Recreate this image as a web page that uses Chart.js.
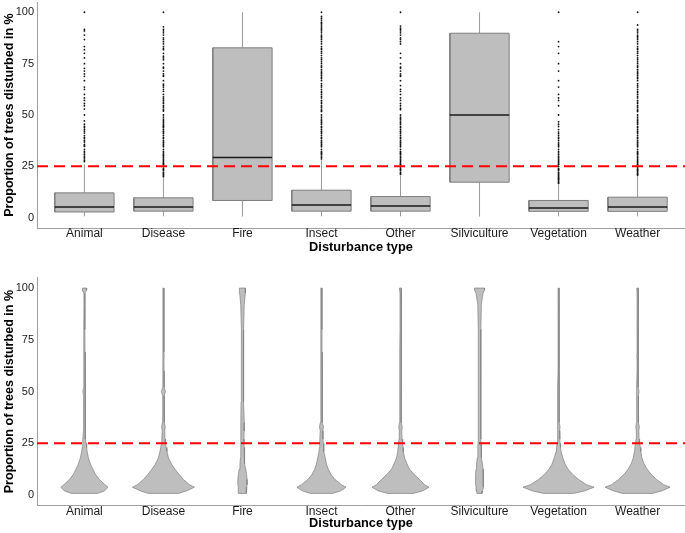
<!DOCTYPE html>
<html>
<head>
<meta charset="utf-8">
<script src="https://cdn.jsdelivr.net/npm/chart.js@4/dist/chart.umd.min.js"></script>
<style>
  body { margin: 0; background: #fff; }
  #wrap { position: relative; width: 685px; height: 533px; }
  canvas { position: absolute; left: 0; }
  #box { top: 0; }
  #violin { top: 256px; }
</style>
</head>
<body>
<div id="wrap">
  <canvas id="box" width="685" height="256"></canvas>
  <canvas id="violin" width="685" height="277"></canvas>
</div>
<script>
// categories and axis ticks
const categories = ["Animal", "Disease", "Fire", "Insect", "Other", "Silviculture", "Vegetation", "Weather"];
const yTicks = [0, 25, 50, 75, 100];
const threshold = 25;

// box plot stats (percent)
const whiskerLow = [0.7, 0.7, 0.6, 0.7, 0.7, 0.6, 0.7, 0.7];
const q1 = [2.8, 3.2, 8.4, 3.2, 3.2, 17.3, 3.1, 3.1];
const median = [5.2, 5.2, 29.3, 6.2, 5.7, 50, 4.7, 5.2];
const q3 = [12.1, 9.7, 82.7, 13.4, 10.3, 89.8, 8.4, 10];
const whiskerHigh = [26, 19.5, 100, 28, 20.4, 100, 16, 20.8];

// outliers
const animalOut = [100, 91.7, 90.9, 88.9, 86.7, 83.3, 81.8, 80, 77.8, 75, 72.7, 71.4, 70, 68.8, 66.7, 63.6, 62.5, 60, 58.3, 57.1, 55.6, 54.5, 52.9, 50, 47.1, 45.5, 44.4, 43.8, 42.9, 42.1, 41.2, 40, 39.1, 38.5, 37.5, 36.8, 35.7, 35, 34.8, 33.3, 32.3, 31.6, 30.8, 30, 29.4, 28.6, 27.8, 27.3];
const diseaseOut = [100, 92.9, 91.7, 90.9, 90, 88.9, 87.5, 86.7, 85.7, 84.6, 83.3, 82.4, 81.8, 80, 78.6, 77.8, 76.9, 75, 73.3, 72.7, 71.4, 70, 69.2, 68.8, 66.7, 65, 64.3, 63.6, 62.5, 61.5, 60, 58.8, 57.9, 57.1, 56.3, 55.6, 54.5, 53.8, 52.9, 52.4, 51.9, 50, 49, 48, 47.4, 46.7, 46.2, 45.5, 44.8, 44.4, 43.8, 42.9, 42.1, 41.7, 40.9, 40, 39.1, 38.5, 37.5, 36.8, 36.4, 35.7, 35, 34.5, 33.3, 32.3, 31.6, 31, 30.4, 30, 29.4, 28.6, 28, 27.3, 26.7, 26.3, 25.9, 25, 24.1, 23.5, 23.1, 22.2, 21.7, 21.1, 20.5, 20];
const insectOut = [100, 98, 97.1, 96.2, 95.2, 94.7, 93.8, 92.9, 92.3, 91.7, 90.9, 90, 88.9, 88.2, 87.5, 86.7, 85.7, 84.6, 83.3, 82.4, 81.8, 80.8, 80, 78.9, 77.8, 76.9, 75.9, 75, 73.9, 73.3, 72.2, 71.4, 70.6, 70, 69.2, 68.4, 67.7, 66.7, 65.2, 64.3, 63.6, 62.5, 61.5, 60.9, 60, 59.1, 58.3, 57.1, 56.3, 55.6, 54.5, 53.8, 52.9, 52.2, 51.7, 50, 48.9, 48, 47.4, 46.7, 46.2, 45.5, 44.4, 43.8, 42.9, 42.1, 41.7, 40.9, 40, 39.1, 38.5, 37.5, 36.8, 36.4, 35.7, 35, 34.5, 33.3, 32.3, 31.8, 31.3, 30.8, 30, 29.4, 28.6];
const otherOut = [100, 93.3, 92.3, 91.7, 90.9, 90, 88.9, 87.5, 86.7, 85.7, 84.6, 80, 77.8, 75, 73.3, 72.7, 71.4, 70, 69.2, 68.8, 66.7, 64.3, 62.5, 61.5, 60, 58.3, 57.1, 55.6, 54.5, 53.3, 52.6, 50, 49, 48.3, 47.6, 46.7, 46.2, 45.5, 44.4, 43.8, 42.9, 42.1, 41.7, 40.9, 40, 39.1, 38.5, 37.5, 36.8, 36.4, 35.7, 35, 34.5, 33.3, 32.3, 31.8, 31.3, 30.8, 30, 29.4, 28.6, 28, 27.3, 26.7, 26.1, 25.9, 25, 24.2, 23.5, 23.1, 22.2, 21.7, 21.1];
const vegetationOut = [100, 85.7, 83.3, 80, 75, 71.4, 66.7, 63.6, 60, 58.3, 57.1, 54.5, 50, 46.7, 45.5, 44.4, 42.9, 41.7, 40.9, 40, 39.1, 38.5, 37.5, 36.4, 35.7, 35, 34.5, 33.3, 32.3, 31.6, 30.8, 30, 29.4, 28.6, 28, 27.3, 26.7, 26.1, 25.9, 25, 24, 23.5, 23.1, 22.2, 21.7, 21.1, 20.5, 20, 19.4, 19, 18.8, 18.2, 17.6, 17.1, 16.7];
const weatherOut = [100, 93.8, 91.7, 90.9, 90, 88.9, 88.2, 87.5, 86.7, 85.7, 84.6, 83.3, 82.4, 81.8, 80.8, 80, 78.9, 77.8, 76.9, 75.9, 75, 73.9, 73.3, 72.2, 71.4, 70.6, 70, 69.2, 68.4, 67.7, 66.7, 65.2, 64.3, 63.6, 62.5, 61.5, 60.9, 60, 59.1, 58.3, 57.1, 56.3, 55.6, 54.5, 53.8, 52.9, 52.2, 51.7, 50, 48.9, 48, 47.4, 46.7, 46.2, 45.5, 44.4, 43.8, 42.9, 42.1, 41.7, 40.9, 40, 39.1, 38.5, 37.5, 36.8, 36.4, 35.7, 35, 34.5, 33.3, 32.3, 31.8, 31.3, 30.8, 30, 29.4, 28.6, 28, 27.3, 26.7, 26.1, 25.9, 25, 24.2, 23.5, 23.1, 22.7, 22.2, 21.7, 21.1, 20.8];
const outliers = [animalOut, diseaseOut, [], insectOut, otherOut, [], vegetationOut, weatherOut];

// violin: relative density at each level
const violinLevels = [0.8, 2, 3.8, 5, 7.5, 10, 12.5, 15, 18, 21, 23, 25, 27, 31, 33, 35, 45, 48, 50, 52, 60, 65, 67, 69, 80, 92, 97.5, 99, 100];
const animalDen = [26, 40, 47, 41, 30, 22, 17, 12, 8, 5.5, 4.5, 3.5, 3, 2, 2, 1.8, 1.5, 1.5, 3, 1.5, 1.3, 1.2, 1.5, 1.2, 1, 0.8, 1, 4.5, 3.5];
const diseaseDen = [30, 46, 62, 52, 40, 31, 23, 16, 10, 7, 5.5, 4, 3.2, 2.5, 3.5, 2, 1.5, 1.4, 4, 1.4, 1.2, 1, 1.5, 1, 1, 1, 1, 1, 1];
const fireDen = [7.5, 8, 8.8, 9.2, 9.3, 8.2, 6.5, 5, 4, 3.5, 3.2, 3, 3, 3.2, 3.5, 3.6, 2.8, 2.4, 2.2, 2.1, 2, 2, 2, 2, 2.2, 3.5, 5.5, 6, 6];
const insectDen = [22, 38, 49, 40, 27, 19, 13.5, 10, 7.5, 5, 4.2, 3.7, 3, 2.5, 4, 2.2, 1.5, 1.5, 2.5, 1.4, 1.2, 1.1, 1.5, 1.1, 1, 1, 1, 1, 1];
const otherDen = [26, 44, 57, 48, 38, 27, 18, 13, 8, 5.5, 5, 4.3, 3, 2.5, 3.5, 2, 1.5, 1.5, 2.5, 1.4, 1.2, 1.1, 1.5, 1.1, 1, 1, 1, 1.5, 2];
const silvicultureDen = [5, 6, 7, 7.5, 8, 7.8, 7, 5.8, 4.5, 3.5, 3.2, 3, 2.8, 2.6, 2.5, 2.5, 2.5, 2.5, 2.5, 2.5, 2.5, 2.5, 2.5, 2.5, 2.7, 3.5, 7, 10, 10];
const vegetationDen = [30, 52, 71, 56, 40, 28, 19, 13, 8.5, 5, 4, 3, 2.5, 2, 3, 1.6, 1.3, 1.3, 2, 1.2, 1, 1, 1, 1, 1, 1, 1, 1, 1];
const weatherDen = [30, 48, 65, 52, 38, 27, 19, 13, 8.5, 6.5, 5.5, 4, 3, 2.5, 3.5, 2, 1.5, 1.5, 3, 1.4, 1.1, 1, 1.5, 1, 1, 1, 1, 1.5, 1.5];
const densities = [animalDen, diseaseDen, fireDen, insectDen, otherDen, silvicultureDen, vegetationDen, weatherDen];

const FONT = "'Liberation Sans', Arial, sans-serif";
const FILL = "#bebebe";
const EDGE = "#7f7f7f";
const AXIS = "#a0a0a0";
const BOXW = 0.75;

// stop chart.js from reserving room for overhanging tick labels
function noPad(s) {
  s.paddingTop = 0; s.paddingBottom = 0; s.paddingLeft = 0; s.paddingRight = 0;
}

function makeScales(xHeight, titlePad) {
  return {
    x: {
      type: "linear", min: -0.6, max: 7.6,
      afterBuildTicks: s => { s.ticks = categories.map((c, i) => ({ value: i })); },
      afterFit: s => { s.height = xHeight; noPad(s); },
      grid: { display: false, drawTicks: false },
      border: { display: true, color: AXIS, width: 1 },
      ticks: {
        autoSkip: false, maxRotation: 0, padding: 0, color: "#1a1a1a",
        font: { family: FONT, size: 12, lineHeight: 1 },
        callback: v => categories[v]
      },
      title: {
        display: true, text: "Disturbance type", color: "#000",
        font: { family: FONT, size: 12.8, weight: "bold", lineHeight: 1 },
        padding: { top: 0, bottom: titlePad }
      }
    },
    y: {
      min: -5, max: 105,
      afterBuildTicks: s => { s.ticks = yTicks.map(v => ({ value: v })); },
      afterFit: s => { s.width = 37; noPad(s); },
      grid: { display: false, drawTicks: false },
      border: { display: true, color: AXIS, width: 1 },
      ticks: { autoSkip: false, padding: 3, color: "#1a1a1a", font: { family: FONT, size: 11 } },
      title: {
        display: true, text: "Proportion of trees disturbed in %", color: "#000",
        font: { family: FONT, size: 12.6, weight: "bold", lineHeight: 1 },
        padding: { top: 3.5, bottom: 0 }
      }
    }
  };
}

const thresholdLine = {
  type: "line",
  data: [{ x: -0.6, y: threshold }, { x: 7.6, y: threshold }],
  borderColor: "#ff0000", borderWidth: 2, borderDash: [11, 6],
  pointRadius: 0, fill: false, order: 0
};

const common = {
  responsive: false, animation: false, events: [],
  plugins: { legend: { display: false }, tooltip: { enabled: false } }
};

// ---- box plot ----
const whiskerData = [];
const medianData = [];
categories.forEach((c, i) => {
  whiskerData.push({ x: i, y: whiskerLow[i] }, { x: i, y: q1[i] }, { x: i, y: null },
                   { x: i, y: q3[i] }, { x: i, y: whiskerHigh[i] }, { x: i, y: null });
  medianData.push({ x: i - BOXW / 2, y: median[i] }, { x: i + BOXW / 2, y: median[i] }, { x: i, y: null });
});
const outlierData = [];
outliers.forEach((list, i) => list.forEach(v => outlierData.push({ x: i, y: v })));

const boxSets = categories.map((c, i) => ({
  type: "line",
  data: [
    { x: i - BOXW / 2, y: q1[i] }, { x: i + BOXW / 2, y: q1[i] },
    { x: i + BOXW / 2, y: q3[i] }, { x: i - BOXW / 2, y: q3[i] },
    { x: i - BOXW / 2, y: q1[i] }
  ],
  borderColor: EDGE, borderWidth: 1, backgroundColor: FILL,
  fill: "shape", pointRadius: 0, order: 3
}));

new Chart(document.getElementById("box"), {
  type: "line",
  data: {
    datasets: [
      thresholdLine,
      { type: "scatter", data: outlierData, pointRadius: 0.9, pointBorderWidth: 0,
        pointBackgroundColor: "#111", order: 1 },
      { type: "line", data: medianData, borderColor: "#1a1a1a", borderWidth: 1.4,
        pointRadius: 0, fill: false, spanGaps: false, order: 2 },
      ...boxSets,
      { type: "line", data: whiskerData, borderColor: EDGE, borderWidth: 0.8,
        pointRadius: 0, fill: false, spanGaps: false, order: 4 }
    ]
  },
  options: Object.assign({}, common, {
    layout: { autoPadding: false, padding: { top: 2, left: 0, right: 0, bottom: 0 } },
    scales: makeScales(28, 2.5)
  })
});

// ---- violin plot ----
const maxDen = Math.max(...densities.flat());
const violinSets = categories.map((c, i) => {
  const half = densities[i].map(d => d / maxDen * 0.45);
  const left = violinLevels.map((v, k) => ({ x: i - half[k], y: v }));
  const right = violinLevels.map((v, k) => ({ x: i + half[k], y: v })).reverse();
  return {
    type: "line", data: [...left, ...right, left[0]],
    borderColor: EDGE, borderWidth: 0.7, backgroundColor: FILL,
    fill: "shape", pointRadius: 0, order: 1
  };
});

new Chart(document.getElementById("violin"), {
  type: "line",
  data: { datasets: [thresholdLine, ...violinSets] },
  options: Object.assign({}, common, {
    layout: { autoPadding: false, padding: { top: 21.7, left: 0, right: 0, bottom: 0 } },
    scales: makeScales(27.6, 3.5)
  })
});
</script>
</body>
</html>
